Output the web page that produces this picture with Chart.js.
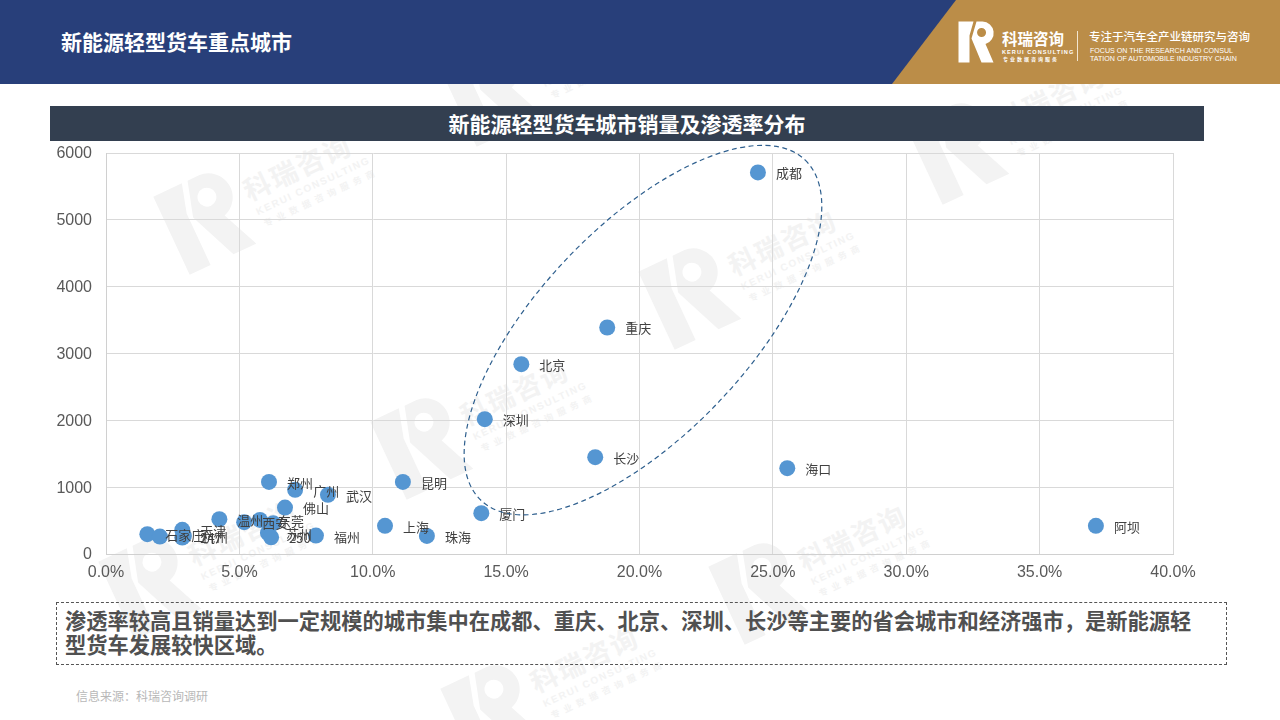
<!DOCTYPE html>
<html lang="zh"><head><meta charset="utf-8">
<script src="https://cdn.jsdelivr.net/npm/chart.js@4"></script>
<style>
html,body{margin:0;padding:0;background:#fff;width:1280px;height:720px;overflow:hidden;font-family:"Noto Sans CJK SC","Liberation Sans",sans-serif}
.abs{position:absolute;white-space:nowrap}
#wm,#hdr{position:absolute;left:0;top:0}
#title{left:61px;top:26px;font-size:21px;line-height:30px;font-weight:700;color:#fff}
#bar{left:50px;top:106px;width:1154px;height:35px;background:#333f50;color:#fff;font-size:21px;font-weight:700;line-height:35px;text-align:center}
#chartBox{position:absolute;left:50px;top:141px;width:1150px;height:443px}
#note{left:56px;top:602px;width:1169px;height:61px;border:1px dashed #555;font-size:21.25px;font-weight:700;line-height:24px;color:#505050;box-sizing:content-box}
#note div{position:absolute;left:8px;white-space:nowrap}
#src{left:76px;top:688px;font-size:12px;line-height:16px;color:#b8b8b8}
</style></head><body>
<svg id="wm" width="1280" height="720" viewBox="0 0 1280 720">
<defs>
<g id="mark" fill="#f3f3f3">
<path fill-rule="evenodd" d="M0 0H15L11 14V41H0ZM18 0H24A11.5 11.5 0 0 1 27 22.5L35 41H23L13 17ZM23 6.5A4.5 4.5 0 1 0 23.1 15.5A4.5 4.5 0 1 0 23 6.5Z" transform="translate(-37,-43) scale(2.1)"/>
<text x="48" y="2" font-size="27" font-weight="700" letter-spacing="2">科瑞咨询</text>
<text x="50" y="18" font-size="10" font-family="Liberation Sans" font-weight="700" letter-spacing="1.6">KERUI CONSULTING</text>
<text x="52" y="32" font-size="9" font-weight="700" letter-spacing="5">专业数据咨询服务商</text>
</g>
</defs>
<use href="#mark" transform="translate(205,220) rotate(-25)"/>
<use href="#mark" transform="translate(690,295) rotate(-25)"/>
<use href="#mark" transform="translate(422,445) rotate(-25)"/>
<use href="#mark" transform="translate(958,150) rotate(-25)"/>
<use href="#mark" transform="translate(492,92) rotate(-25)"/>
<use href="#mark" transform="translate(150,585) rotate(-25)"/>
<use href="#mark" transform="translate(760,590) rotate(-25)"/>
<use href="#mark" transform="translate(492,712) rotate(-25)"/>
</svg>
<svg id="hdr" width="1280" height="84" viewBox="0 0 1280 84">
<rect width="1280" height="84" fill="#283f7a"/>
<polygon points="956,0 1280,0 1280,84 892,84" fill="#bb8d48"/>
<path fill="#fff" fill-rule="evenodd" d="M0 0H15L11 14V41H0ZM18 0H24A11.5 11.5 0 0 1 27 22.5L35 41H23L13 17ZM23 6.5A4.5 4.5 0 1 0 23.1 15.5A4.5 4.5 0 1 0 23 6.5Z" transform="translate(958.5,21.5)"/>
<text x="1002" y="45" font-size="15.5" font-weight="700" fill="#fff">科瑞咨询</text>
<text x="1002" y="54" font-size="5.6" font-weight="700" font-family="Liberation Sans" letter-spacing="1.05" fill="#fff">KERUI CONSULTING</text>
<text x="1003" y="61" font-size="5" font-weight="700" letter-spacing="2" fill="#fff">专业数据咨询服务</text>
<rect x="1077" y="31" width="1" height="30" fill="#f3e6d0"/>
<text x="1089" y="41" font-size="11.5" font-weight="500" fill="#fff">专注于汽车全产业链研究与咨询</text>
<text x="1090" y="53" font-size="7.1" font-family="Liberation Sans" fill="#fff">FOCUS ON THE RESEARCH AND CONSUL</text>
<text x="1090" y="61" font-size="7.1" font-family="Liberation Sans" fill="#fff">TATION OF AUTOMOBILE INDUSTRY CHAIN</text>
</svg>
<div class="abs" id="title">新能源轻型货车重点城市</div>
<div class="abs" id="bar">新能源轻型货车城市销量及渗透率分布</div>
<div id="chartBox"><canvas id="c" width="1150" height="443"></canvas></div>
<div class="abs" id="note"><div style="top:5px">渗透率较高且销量达到一定规模的城市集中在成都、重庆、北京、深圳、长沙等主要的省会城市和经济强市&#xFF0C;是新能源轻</div><div style="top:29px">型货车发展较快区域。</div></div>
<div class="abs" id="src">信息来源&#xFF1A;科瑞咨询调研</div>
<script>
// Labels the reference leaves illegible under overlapping text are kept empty.
const cities = ['成都','重庆','北京','深圳','长沙','海口','阿坝','厦门','昆明','上海','珠海','福州','武汉','广州','郑州','佛山','东莞','','西安','温州','苏州','250','石家庄','','天津','杭州','247'];
const penetration = [24.44,18.79,15.57,14.20,18.34,25.54,37.11,14.07,11.13,10.46,12.03,7.87,8.32,7.09,6.11,6.71,5.77,6.27,5.18,4.25,6.07,6.19,1.55,2.02,2.86,2.92,2.86];
const sales = [5710,3389,2841,2018,1449,1284,421,611,1079,421,271,275,885,960,1079,695,510,461,476,521,316,250,296,260,361,271,247];
const xMax = 40, xStep = 5, yMax = 6000, yStep = 1000;
const highlight = {x:20.13, y:3350, rx:235, ry:104.4, angle:-46.4};

const overlay = {
  id:'overlay',
  afterDatasetsDraw(chart){
    const ctx = chart.ctx, pts = chart.getDatasetMeta(0).data;
    ctx.save();
    ctx.font = '13px "Noto Sans CJK SC"';
    ctx.fillStyle = '#404040';
    ctx.textBaseline = 'middle';
    ctx.textAlign = 'left';
    pts.forEach((p,i)=>{ if(cities[i]) ctx.fillText(cities[i], p.x+18, p.y+1); });
    const cx = chart.scales.x.getPixelForValue(highlight.x), cy = chart.scales.y.getPixelForValue(highlight.y);
    ctx.beginPath();
    ctx.ellipse(cx, cy, highlight.rx, highlight.ry, highlight.angle*Math.PI/180, 0, Math.PI*2);
    ctx.setLineDash([5,3.5]);
    ctx.lineWidth = 1.2;
    ctx.strokeStyle = '#2e5f8e';
    ctx.stroke();
    ctx.restore();
  }
};

new Chart(document.getElementById('c'),{
  type:'scatter',
  data:{datasets:[{data:penetration.map((v,i)=>({x:v,y:sales[i]})),backgroundColor:'#5596d2',borderWidth:0,pointRadius:8,pointHoverRadius:8}]},
  plugins:[overlay],
  options:{
    responsive:false,animation:false,devicePixelRatio:1,
    layout:{autoPadding:false,padding:{left:0,right:27,top:12,bottom:0}},
    plugins:{legend:{display:false},tooltip:{enabled:false},title:{display:false}},
    scales:{
      x:{type:'linear',min:0,max:xMax,
        afterFit(s){s.height=30;s.paddingLeft=0;s.paddingRight=0},
        grid:{color:'#d9d9d9',lineWidth:1,tickLength:0,drawTicks:false},border:{color:'#d0d0d0'},
        ticks:{stepSize:xStep,maxRotation:0,padding:9,color:'#595959',font:{family:'"Liberation Sans"',size:16},callback:v=>Number(v).toFixed(1)+'%'}},
      y:{type:'linear',min:0,max:yMax,
        afterFit(s){s.width=56;s.paddingTop=0;s.paddingBottom=0},
        grid:{color:'#d9d9d9',lineWidth:1,tickLength:0,drawTicks:false},border:{color:'#d0d0d0'},
        ticks:{stepSize:yStep,padding:14,labelOffset:1,color:'#595959',font:{family:'"Liberation Sans"',size:16},callback:v=>String(v)}}
    }
  }
});
</script>
</body></html>
